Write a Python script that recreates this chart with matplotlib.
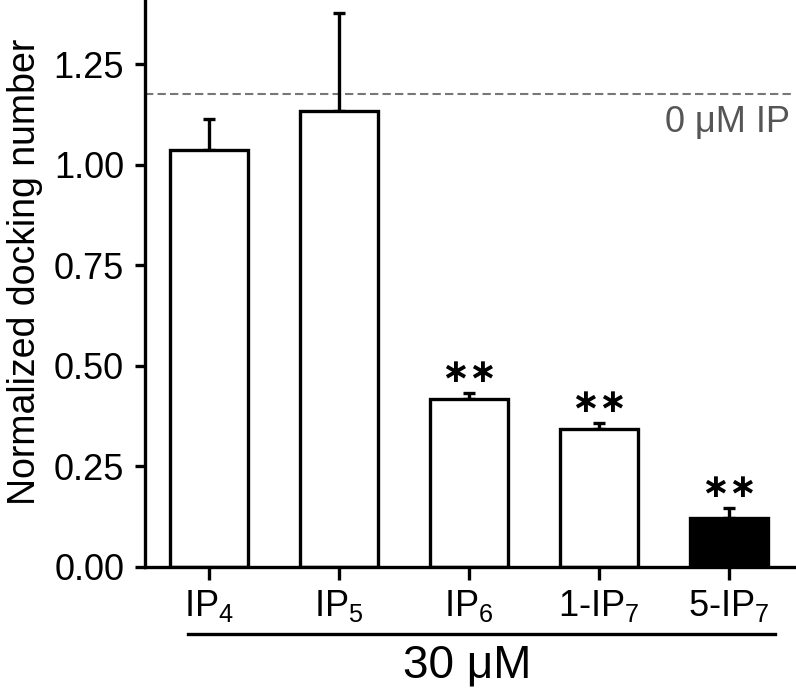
import matplotlib
matplotlib.use('Agg')
import matplotlib.pyplot as plt
from matplotlib.lines import Line2D
from matplotlib.ticker import FormatStrFormatter

plt.rcParams['font.family'] = ['Liberation Sans', 'DejaVu Sans']
plt.rcParams['mathtext.fontset'] = 'custom'
plt.rcParams['mathtext.rm'] = 'Liberation Sans'
plt.rcParams['mathtext.it'] = 'Liberation Sans:italic'

# Data
labels = [r'$\mathregular{IP_4}$', r'$\mathregular{IP_5}$', r'$\mathregular{IP_6}$',
          r'$\mathregular{1\text{-}IP_7}$', r'$\mathregular{5\text{-}IP_7}$']
means = [1.037, 1.134, 0.418, 0.343, 0.122]
errs = [0.077, 0.244, 0.015, 0.015, 0.025]
colors = ['white', 'white', 'white', 'white', 'black']
stars = ['', '', '∗∗', '∗∗', '∗∗']
control = 1.176
yticks = [0.0, 0.25, 0.5, 0.75, 1.0, 1.25]

W, H = 796, 695
fig = plt.figure(figsize=(W / 100, H / 100), dpi=100)
ax = fig.add_axes([145 / W, 1 - 567 / H, (795 - 145) / W, 567 / H])

x = list(range(len(means)))
ax.bar(x, means, width=0.6, color=colors, edgecolor='black', linewidth=2.4, zorder=2)
ax.errorbar(x, means, yerr=[[0] * len(errs), errs], fmt='none', ecolor='black',
            elinewidth=2.4, capsize=4.5, capthick=2.4, zorder=1)

# control level
ax.axhline(control, color='#777777', lw=1.5, ls=(0, (4, 2)), zorder=0)
fig.text(790 / W, 1 - 132 / H, '0 μM IP', ha='right', va='baseline',
         fontsize=26, color='#555555')

# significance marks
for i, s in enumerate(stars):
    if s:
        ax.annotate(s, (i, means[i] + errs[i]), xytext=(0, 15), textcoords='offset points',
                    ha='center', va='center', fontsize=24, fontweight='bold',
                    family='DejaVu Sans')

ax.set_xlim(-0.49, 4.51)
ax.set_ylim(0, 1.41)
ax.set_yticks(yticks)
ax.yaxis.set_major_formatter(FormatStrFormatter('%.2f'))
ax.set_xticks(x, labels)

for side in ['top', 'right']:
    ax.spines[side].set_visible(False)
for side in ['left', 'bottom']:
    ax.spines[side].set_linewidth(2.4)

ax.tick_params(axis='y', direction='out', width=2.4, length=7, labelsize=26, pad=8)
ax.tick_params(axis='x', direction='out', width=2.4, length=9, labelsize=26, pad=6)

fig.text(25 / W, 1 - 272 / H, 'Normalized docking number', rotation=90,
         ha='center', va='center', fontsize=27)

# concentration bracket
fig.add_artist(Line2D([188 / W, 775 / W], [1 - 634 / H] * 2, color='black', lw=2.4))
fig.text(467 / W, 1 - 666 / H, '30 μM', ha='center', va='center', fontsize=33)

fig.savefig('out.png', dpi=100)
